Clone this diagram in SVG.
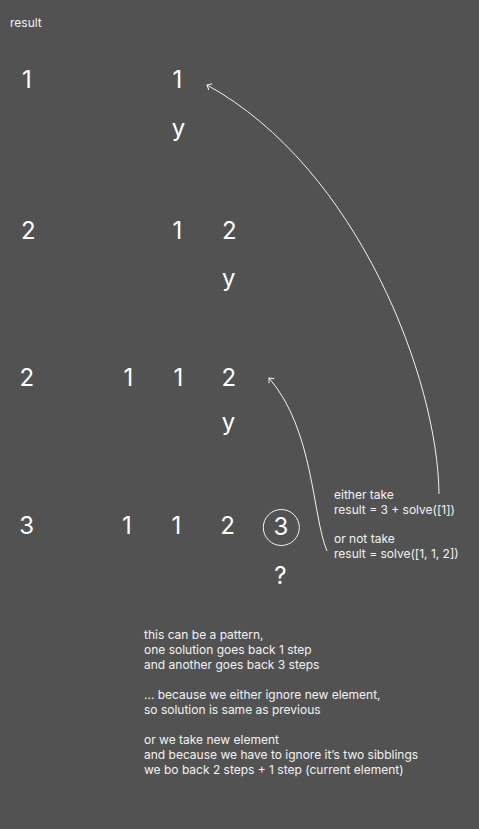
<svg xmlns="http://www.w3.org/2000/svg" width="479" height="829" viewBox="0 0 479 829">
  <style>
    .big { font-family: Inter, "Liberation Sans", sans-serif; font-size: 24px; fill: #ffffff; text-anchor: middle; }
    .small { font-family: Inter, "Liberation Sans", sans-serif; font-size: 12px; fill: #f2f2f2; }
    .conn { fill: none; stroke: #f2f2f2; stroke-width: 1; }
  </style>
  <defs>
    <marker id="chev" markerUnits="userSpaceOnUse" markerWidth="12" markerHeight="12" viewBox="-6 -6 12 12" refX="0" refY="0" orient="auto">
      <path d="M-4,-3.5 L0,0 L-4,3.5" fill="none" stroke="#f2f2f2" stroke-width="1"/>
    </marker>
  </defs>
  <rect x="0" y="0" width="479" height="829" fill="#525252"/>

  <g id="label-result"><text class="small" x="10" y="27">result</text></g>

  <g id="row1">
    <text class="big" x="27" y="88">1</text>
    <text class="big" x="177.5" y="88">1</text>
    <text class="big" x="178.5" y="136">y</text>
  </g>

  <g id="row2">
    <text class="big" x="28.3" y="239">2</text>
    <text class="big" x="177.5" y="239">1</text>
    <text class="big" x="229.3" y="239">2</text>
    <text class="big" x="228.7" y="286">y</text>
  </g>

  <g id="row3">
    <text class="big" x="26.7" y="386">2</text>
    <text class="big" x="128.5" y="386">1</text>
    <text class="big" x="178.3" y="386">1</text>
    <text class="big" x="228.8" y="386">2</text>
    <text class="big" x="228.5" y="430">y</text>
  </g>

  <g id="row4">
    <text class="big" x="26.7" y="534">3</text>
    <text class="big" x="127" y="534">1</text>
    <text class="big" x="176.5" y="534">1</text>
    <text class="big" x="227.5" y="534">2</text>
    <g id="circled-3">
      <circle cx="281.3" cy="527.5" r="18" fill="none" stroke="#f2f2f2" stroke-width="1"/>
      <text class="big" x="281" y="535">3</text>
    </g>
    <text class="big" x="280.5" y="584">?</text>
  </g>

  <g id="note-take">
    <text class="small" x="334" y="499">either take</text>
    <text class="small" x="334" y="514">result = 3 + solve([1])</text>
    <text class="small" x="334" y="543">or not take</text>
    <text class="small" x="334" y="558">result = solve([1, 1, 2])</text>
  </g>

  <g id="note-pattern">
    <text class="small" x="144" y="639">this can be a pattern,</text>
    <text class="small" x="144" y="654">one solution goes back 1 step</text>
    <text class="small" x="144" y="669">and another goes back 3 steps</text>
    <text class="small" x="144" y="699">... because we either ignore new element,</text>
    <text class="small" x="144" y="714">so solution is same as previous</text>
    <text class="small" x="144" y="744">or we take new element</text>
    <text class="small" x="144" y="759">and because we have to ignore it’s two sibblings</text>
    <text class="small" x="144" y="774">we bo back 2 steps + 1 step (current element)</text>
  </g>

  <g id="connectors">
    <path class="conn" d="M439,494 C438,380 358,168 207,85" marker-end="url(#chev)"/>
    <path class="conn" d="M327,551 C312,515 314,430 269,378" marker-end="url(#chev)"/>
  </g>
</svg>
